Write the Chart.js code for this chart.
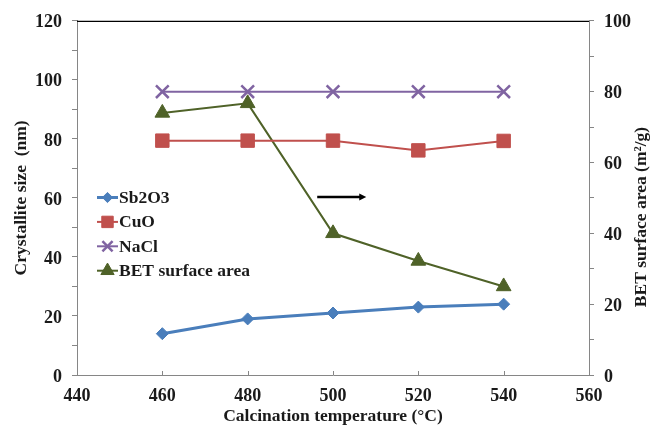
<!DOCTYPE html>
<html>
<head>
<meta charset="utf-8">
<script src="https://cdn.jsdelivr.net/npm/chart.js@4/dist/chart.umd.min.js"></script>
<style>
html,body{margin:0;padding:0;background:#fff;}
#wrap{position:relative;width:653px;height:427px;}
</style>
</head>
<body>
<div id="wrap"><canvas id="c" width="653" height="427"></canvas></div>
<script>
const temperatures = [460, 480, 500, 520, 540];
const sb2o3 = [14, 19, 21, 23, 24];
const cuo = [79.4, 79.4, 79.4, 76.1, 79.3];
const nacl = [96, 96, 96, 96, 96];
const bet = [74, 76.7, 40, 32.2, 25];
const seriesNames = ['Sb2O3', 'CuO', 'NaCl', 'BET surface area'];
const xTitle = 'Calcination temperature (°C)';
const yLeftTitle = 'Crystallite size  (nm)';
const yRightTitle = 'BET surface area (m²/g)';

const FONT = '"Liberation Serif", "Times New Roman", serif';
const pts = arr => temperatures.map((t, i) => ({x: t, y: arr[i]}));

const datasets = [
  {label: seriesNames[0], data: pts(sb2o3), yAxisID: 'y', borderColor: '#4a7ebb', backgroundColor: '#4a7ebb',
   borderWidth: 3, pointStyle: 'rectRot', pointRadius: 6, pointBorderWidth: 1, legendScale: 0.85},
  {label: seriesNames[1], data: pts(cuo), yAxisID: 'y', borderColor: '#c0504d', backgroundColor: '#c0504d',
   borderWidth: 2, pointStyle: 'rect', pointRadius: 9.5, pointBorderWidth: 1, legendScale: 0.85},
  {label: seriesNames[2], data: pts(nacl), yAxisID: 'y', borderColor: '#8064a2', backgroundColor: '#8064a2',
   borderWidth: 2, pointStyle: 'crossRot', pointRadius: 9, pointBorderWidth: 2.5, legendScale: 0.8},
  {label: seriesNames[3], data: pts(bet), yAxisID: 'y2', borderColor: '#4f6228', backgroundColor: '#4f6228',
   borderWidth: 2, pointStyle: 'triangle', pointRadius: 8.5, pointBorderWidth: 1, legendScale: 0.9}
];
datasets.forEach(d => { d.pointBackgroundColor = d.backgroundColor; d.pointBorderColor = d.borderColor; d.tension = 0; d.fill = false; });

const extras = {
  id: 'extras',
  afterDraw(chart) {
    const ctx = chart.ctx, a = chart.chartArea;
    const xs = chart.scales.x, yl = chart.scales.y;
    ctx.save();
    // top border
    ctx.strokeStyle = '#000'; ctx.lineWidth = 1.2;
    ctx.beginPath(); ctx.moveTo(a.left, a.top + 0.5); ctx.lineTo(a.right, a.top + 0.5); ctx.stroke();
    // inward x ticks
    ctx.strokeStyle = '#868686'; ctx.lineWidth = 1;
    xs.ticks.forEach(t => {
      const px = Math.round(xs.getPixelForValue(t.value)) + 0.5;
      ctx.beginPath(); ctx.moveTo(px, a.bottom); ctx.lineTo(px, a.bottom - 4); ctx.stroke();
    });
    // arrow annotation (pointing to right axis)
    const ax0 = xs.getPixelForValue(496.3), ax1 = xs.getPixelForValue(507.8), ay = yl.getPixelForValue(60.3);
    ctx.strokeStyle = '#000'; ctx.fillStyle = '#000'; ctx.lineWidth = 2.5;
    ctx.beginPath(); ctx.moveTo(ax0, ay); ctx.lineTo(ax1 - 5, ay); ctx.stroke();
    ctx.beginPath(); ctx.moveTo(ax1, ay); ctx.lineTo(ax1 - 7, ay - 3.5); ctx.lineTo(ax1 - 7, ay + 3.5); ctx.closePath(); ctx.fill();
    // legend
    ctx.font = 'bold 17.5px ' + FONT; ctx.textBaseline = 'middle'; ctx.textAlign = 'left';
    chart.data.datasets.forEach((d, i) => {
      const y = 197.5 + i * 24.4;
      ctx.strokeStyle = d.borderColor; ctx.lineWidth = d.borderWidth;
      ctx.beginPath(); ctx.moveTo(97, y); ctx.lineTo(118, y); ctx.stroke();
      ctx.fillStyle = d.backgroundColor;
      ctx.strokeStyle = d.borderColor; ctx.lineWidth = d.pointBorderWidth;
      Chart.helpers.drawPoint(ctx, {pointStyle: d.pointStyle, radius: d.pointRadius * d.legendScale,
        borderWidth: d.pointBorderWidth, rotation: 0}, 107.5, y);
      ctx.fillStyle = '#1a1a1a';
      ctx.fillText(d.label, 119, y + 1);
    });
    // right axis title, reading bottom to top
    ctx.font = 'bold 17.5px ' + FONT; ctx.fillStyle = '#1a1a1a'; ctx.textAlign = 'center';
    ctx.translate(641, 217); ctx.rotate(-Math.PI / 2);
    ctx.fillText(yRightTitle, 0, 0);
    ctx.restore();
  }
};

const tickFont = {family: FONT, size: 18, weight: 'bold'};
const titleFont = {family: FONT, size: 17.5, weight: 'bold'};
new Chart(document.getElementById('c'), {
  type: 'line',
  data: {datasets},
  plugins: [extras],
  options: {
    responsive: false, animation: false, devicePixelRatio: 1,
    layout: {padding: {top: 20, left: 0, right: 0, bottom: 0}},
    plugins: {legend: {display: false}, tooltip: {enabled: false}},
    scales: {
      x: {
        type: 'linear', min: 440, max: 560,
        ticks: {stepSize: 20, font: tickFont, color: '#1a1a1a', padding: 11, maxRotation: 0},
        grid: {drawOnChartArea: false, drawTicks: false},
        border: {color: '#868686', width: 1},
        title: {display: true, text: xTitle, font: titleFont, color: '#1a1a1a', padding: {top: 0, bottom: 0}},
        afterFit(s) { s.height = 52; }
      },
      y: {
        position: 'left', min: 0, max: 120,
        ticks: {stepSize: 10, autoSkip: false, font: tickFont, color: '#1a1a1a', padding: 10, labelOffset: 2,
          callback: v => (v % 20 === 0 ? v : '')},
        grid: {drawOnChartArea: false, tickLength: 5, color: '#868686'},
        border: {color: '#868686', width: 1},
        title: {display: true, text: yLeftTitle, font: titleFont, color: '#1a1a1a', padding: {top: 11, bottom: 0}},
        afterFit(s) { s.width = 77; }
      },
      y2: {
        position: 'right', min: 0, max: 100,
        ticks: {stepSize: 10, autoSkip: false, font: tickFont, color: '#1a1a1a', padding: 10, labelOffset: 2,
          callback: v => (v % 20 === 0 ? v : '')},
        grid: {drawOnChartArea: false, tickLength: 5, color: '#868686'},
        border: {color: '#868686', width: 1},
        afterFit(s) { s.width = 64; }
      }
    }
  }
});
</script>
</body>
</html>
